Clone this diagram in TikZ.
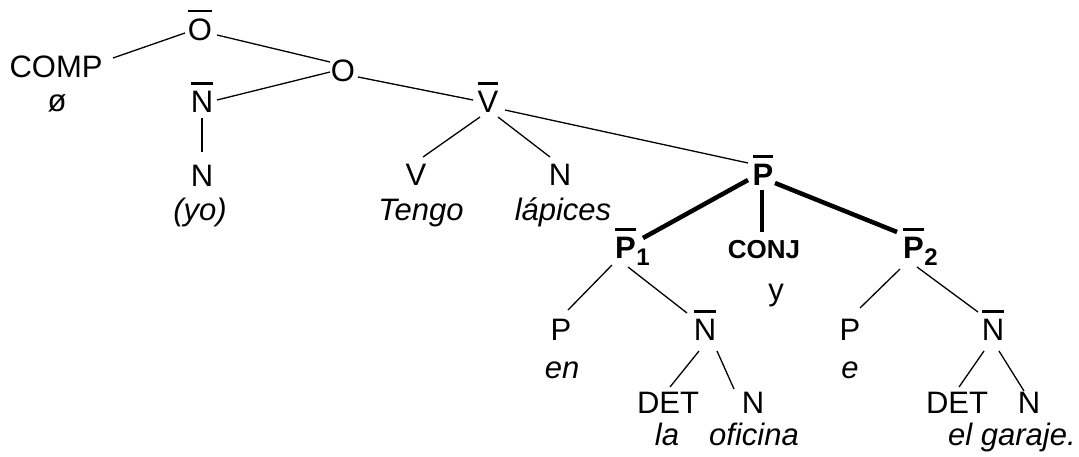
\documentclass[tikz,border=0pt]{standalone}
\usepackage{fontspec}
\setmainfont{Liberation Sans}
\newcommand{\olx}[1]{\leavevmode\vbox{\hrule height 2.4pt\kern 6pt\hbox{#1}}}
\newcommand{\subx}[1]{\kern0.5pt\raisebox{-7pt}{\fontsize{24}{24}\selectfont\bfseries #1}}
\tikzset{
  lbl/.style={anchor=base, inner sep=0pt, font=\fontsize{31}{36}\selectfont},
  wrd/.style={anchor=base, inner sep=0pt, font=\fontsize{31}{36}\selectfont\itshape},
  bld/.style={anchor=base, inner sep=0pt, font=\fontsize{31}{36}\selectfont\bfseries},
  thin/.style={line width=1.3pt},
  thick/.style={line width=4.5pt}
}
\begin{document}
\begin{tikzpicture}[x=1pt,y=-1pt]
\useasboundingbox (0,0) rectangle (1079,456);
% nodes
\node[lbl] (ob) at (200,40) {\olx{O}};
\node[lbl] (comp) at (56,77) {COMP};
\node[lbl] (null) at (57,111) {ø};
\node[lbl] (o) at (343,81) {O};
\node[lbl] (nb1) at (202,112) {\olx{N}};
\node[lbl] (n1) at (202,186) {N};
\node[wrd] (yo) at (200,220) {(yo)};
\node[lbl] (vb) at (488,112) {\olx{V}};
\node[lbl] (v) at (416,185) {V};
\node[wrd] (tengo) at (421,220) {Tengo};
\node[lbl] (n2) at (560,185) {N};
\node[wrd] (lapices) at (563,220) {lápices};
\node[bld] (pb) at (763,185) {\olx{P}};
\node[bld, anchor=base west] (pb1) at (615,258) {\olx{P}\subx{1}};
\node[bld, font=\fontsize{26}{30}\selectfont\bfseries] (conj) at (764,258) {CONJ};
\node[lbl] (yc) at (776,300) {y};
\node[bld, anchor=base west] (pb2) at (903,258) {\olx{P}\subx{2}};
\node[lbl] (p1) at (561,340) {P};
\node[wrd] (en) at (562,378) {en};
\node[lbl] (nb2) at (705,340) {\olx{N}};
\node[lbl] (det1) at (668,413) {DET};
\node[lbl] (n3) at (753,413) {N};
\node[wrd] (la) at (667,445) {la};
\node[wrd] (oficina) at (754,445) {oficina};
\node[lbl] (p2) at (850,340) {P};
\node[wrd] (e) at (850,378) {e};
\node[lbl] (nb3) at (993,340) {\olx{N}};
\node[lbl] (det2) at (957,413) {DET};
\node[lbl] (n4) at (1029,413) {N};
\node[wrd] (garaje) at (1012,445) {el garaje.};
% connectors
\draw[thin] ([shift={(57,-19)}]comp.base) -- ([shift={(-15,-7)}]ob.base);
\draw[thin] ([shift={(17,-5)}]ob.base) -- ([shift={(-13,-19)}]o.base);
\draw[thin] ([shift={(15,-12)}]nb1.base) -- ([shift={(-13,-9)}]o.base);
\draw[thin] ([shift={(0,6)}]nb1.base) -- ([shift={(0,-34)}]n1.base);
\draw[thin] ([shift={(15,-4)}]o.base) -- ([shift={(-15,-12)}]vb.base);
\draw[thin] ([shift={(-8,5)}]vb.base) -- ([shift={(7,-28)}]v.base);
\draw[thin] ([shift={(10,5)}]vb.base) -- ([shift={(-10,-28)}]n2.base);
\draw[thin] ([shift={(17,-2)}]vb.base) -- ([shift={(-15,-22)}]pb.base);
\draw[thick] ([shift={(-15,-5)}]pb.base) -- ([shift={(28,-20)}]pb1.base west);
\draw[thick] ([shift={(-1,5)}]pb.base) -- ([shift={(-2,-26)}]conj.base);
\draw[thick] ([shift={(12,-2)}]pb.base) -- ([shift={(-6,-26)}]pb2.base west);
\draw[thin] ([shift={(-3,7)}]pb1.base west) -- ([shift={(7,-30)}]p1.base);
\draw[thin] ([shift={(13,9)}]pb1.base west) -- ([shift={(-18,-27)}]nb2.base);
\draw[thin] ([shift={(-3,11)}]pb2.base west) -- ([shift={(10,-32)}]p2.base);
\draw[thin] ([shift={(14,9)}]pb2.base west) -- ([shift={(-15,-28)}]nb3.base);
\draw[thin] ([shift={(-6,11)}]nb2.base) -- ([shift={(2,-26)}]det1.base);
\draw[thin] ([shift={(12,11)}]nb2.base) -- ([shift={(-19,-24)}]n3.base);
\draw[thin] ([shift={(-9,11)}]nb3.base) -- ([shift={(2,-26)}]det2.base);
\draw[thin] ([shift={(6,11)}]nb3.base) -- ([shift={(-5,-22)}]n4.base);
\end{tikzpicture}
\end{document}
